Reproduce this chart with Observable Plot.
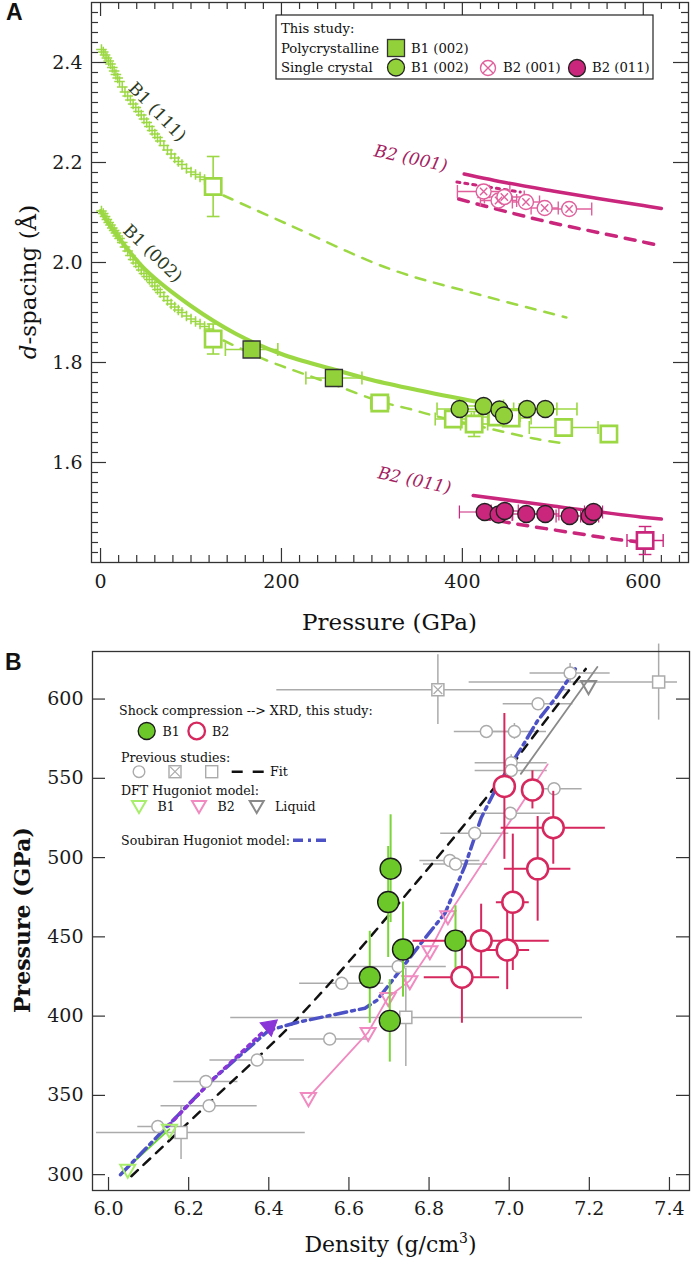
<!DOCTYPE html>
<html><head><meta charset="utf-8">
<script src="https://cdn.jsdelivr.net/npm/d3@7"></script>
<script src="https://cdn.jsdelivr.net/npm/@observablehq/plot@0.6"></script>
<style>
body{margin:0;background:#fff;}
#chart{width:692px;height:1268px;}
#chart svg{display:block;}
</style>
</head><body><div id="chart"></div>
<script>
const FONT = "DejaVu Serif";
// ================= Panel A data =================
const aXTicks = [0, 200, 400, 600];
const aYTicks = [1.6, 1.8, 2.0, 2.2, 2.4];
// B1 (111) compression data (crosses)
const b111Cross = [[1,2.426],[3,2.421],[5,2.415],[7,2.409],[9,2.403],[11,2.397],[13,2.390],[15,2.383],[17,2.376],[19,2.369],[21,2.362],[24,2.351],[27,2.341],[30,2.333],[33,2.325],[36,2.317],[39,2.310],[42,2.302],[45,2.295],[48,2.287],[51,2.280],[54,2.272],[57,2.264],[60,2.257],[63,2.250],[66,2.243],[70,2.234],[74,2.225],[78,2.217],[82,2.209],[86,2.202],[90,2.196],[95,2.188],[100,2.181],[105,2.176],[110,2.171],[115,2.166]];
// B1 (002) compression data (crosses)
const b002Cross = [[1,2.103],[3,2.098],[5,2.092],[7,2.086],[9,2.080],[11,2.075],[13,2.069],[15,2.064],[17,2.059],[19,2.053],[21,2.048],[24,2.040],[27,2.031],[30,2.023],[33,2.014],[36,2.006],[39,1.999],[42,1.992],[45,1.985],[48,1.978],[51,1.972],[54,1.966],[57,1.960],[60,1.953],[63,1.946],[66,1.940],[70,1.932],[74,1.924],[78,1.917],[82,1.911],[86,1.905],[90,1.900],[95,1.893],[100,1.887],[105,1.882],[110,1.877],[115,1.872],[120,1.867]];
// fits
const fitB1_002 = [[0,2.103],[20,2.05],[50,1.985],[100,1.913],[150,1.857],[200,1.817],[258,1.786],[300,1.765],[350,1.745],[420,1.72]];
const dashB1_002 = [[136,1.844],[184,1.804],[225,1.777],[265,1.751],[309,1.722],[342,1.707],[368,1.694],[420,1.672],[479,1.648],[512,1.638]];
const dashB1_111 = [[136,2.134],[210,2.074],[320,1.987],[420,1.935],[515,1.89]];
const fitB2_001 = [[402,2.177],[450,2.159],[500,2.143],[550,2.128],[600,2.114],[620,2.108]];
const dashB2_001 = [[396,2.127],[450,2.101],[500,2.079],[550,2.060],[600,2.041],[620,2.033]];
const dotB2_001 = [[394,2.161],[464,2.141]];
const fitB2_011 = [[412,1.534],[500,1.513],[597,1.491],[620,1.487]];
const dashB2_011 = [[420,1.490],[460,1.477],[520,1.460],[567,1.447],[600,1.440]];
// points: [P, d, P error, d error]
const polyOpenSq = [[124.5,2.152,0,0.06],[124.5,1.847,0,0.03],[308.7,1.719,10,0],[390,1.687,20,0.012],[413,1.677,15,0.025],[438,1.691,20,0.012],[454,1.689,22,0.015],[512,1.670,38,0],[562,1.657,0,0]];
const polyFilledSq = [[167,1.826,29,0],[258,1.769,31,0]];
const scB1_002 = [[397,1.707,25,0],[423.5,1.713,22,0],[441,1.706,22,0],[446,1.694,18,0],[471.5,1.707,33,0],[491.7,1.707,35,0]];
const scB2_001 = [[423.5,2.142,29,0.012],[440,2.124,20,0],[446.4,2.131,22,0.01],[470.3,2.121,15,0],[491,2.109,15,0],[518,2.107,25,0]];
const scB2_011 = [[424.7,1.501,28,0],[440,1.496,15,0],[446.8,1.503,15,0],[470.7,1.497,15,0],[491.7,1.497,15,0],[518.6,1.493,15,0],[540.7,1.493,10,0],[545,1.501,10,0]];
const polyB2_011Open = [[602,1.444,20,0.028]];
const aLabels = [
  {P:62.7, d:2.301, text:"B1 (111)", rot:46, kind:"b1"},
  {P:57.5, d:2.018, text:"B1 (002)", rot:44, kind:"b1"},
  {P:343, d:2.208, text:"B2 (001)", rot:12, kind:"b2"},
  {P:347, d:1.564, text:"B2 (011)", rot:12, kind:"b2"}
];

// ================= Panel B data =================
const bXTicks = [6.0, 6.2, 6.4, 6.6, 6.8, 7.0, 7.2, 7.4];
const bYTicks = [300, 350, 400, 450, 500, 550, 600];
// this study: [density, pressure, density err, pressure err]
const shockB1 = [[6.652,424.5,0,29],[6.702,397,0,26],[6.698,472,0,35],[6.704,493,0,34],[6.735,442,0,30],[6.866,447.6,0,22]];
const shockB2 = [[6.988,544.9,0,46],[7.058,542.7,0.025,12],[7.110,518.8,0.13,23],[7.071,492.9,0.083,33],[7.009,471.8,0.041,43],[6.930,447.6,0.17,23],[6.995,441.7,0.056,25],[6.882,424.5,0.094,29]];
// previous studies
const prevCircles = [[7.152,616.4,0.10,6],[7.072,597,0.087,0],[6.943,579.6,0.08,0],[7.013,579.6,0.08,5],[7.005,559.8,0.09,5],[7.005,555,0.09,0],[7.112,543.4,0.07,0],[7.003,528,0.10,0],[6.914,515.4,0.085,0],[6.852,498.2,0.075,0],[6.866,496,0.08,0],[6.723,431.3,0.12,0],[6.582,420.7,0.105,0],[6.552,385.6,0.10,0],[6.371,372.3,0.118,0],[6.243,358.8,0.08,0],[6.251,343.5,0.12,0],[6.123,330.4,0.05,0]];
// squares: [density, pressure, density low, density high, pressure err]
const prevSquares = [[6.181,326.6,5.97,6.491,17],[6.742,399.2,6.305,7.183,31],[7.373,610.7,6.90,7.42,24]];
const prevCrossSq = [[6.822,605.9,6.42,7.15,22]];
const fitPrev = [[6.057,299],[6.25,345],[6.478,400.3],[6.769,484.5],[6.967,545.5],[7.075,581.3],[7.191,619]];
const dftB1 = [[6.048,303.5],[6.152,328.7]];
const dftB1Line = [[6.03,300.4],[6.152,328.7]];
const dftB2 = [[6.499,348.7],[6.648,389.8],[6.698,411.9],[6.752,422.4],[6.802,441.4],[6.847,463.4]];
const dftB2Line = [[6.499,348.7],[6.648,389.8],[6.698,411.9],[6.752,422.4],[6.802,441.4],[6.847,463.4],[7.096,558.8]];
const dftLiquid = [[7.198,608.6]];
const dftLiquidLine = [[7.029,552.8],[7.22,620.2]];
const soubiran = [[6.03,300],[6.16,334],[6.26,360],[6.40,391],[6.47,396],[6.64,405],[6.67,410],[6.71,423],[6.78,446],[6.84,465],[6.89,495],[6.93,525],[6.97,545],[7.03,569],[7.07,586],[7.12,602],[7.165,619]];
const purplePath = [[6.15,331],[6.26,360],[6.39,391]];
const purpleHead = [[6.402,393.5]];

// ================= colors =================
const cGreen = "#9cd843", cGreenFill = "#92d13a", cMag = "#c9267c", cMagX = "#e0609c";
const cGB = "#6cc828", cCrim = "#d6285e", cGray = "#ababab";
const cDftG = "#a8ee6c", cDftP = "#f08ac0", cDftL = "#8a8a8a", cSoub = "#4c52c6", cPurp = "#8a35d8";

const P = a => a.map(([x,y,ex=0,ey=0]) => ({x,y,ex,ey}));
const L = a => a.map(([x,y]) => ({x,y}));

// error bars with caps (panel A)
function errA(data, color, w, capD, capP) {
  const hx = data.filter(d => d.ex > 0), vy = data.filter(d => d.ey > 0);
  const o = {stroke: color, strokeWidth: w};
  return [
    Plot.link(hx, {x1: d=>d.x-d.ex, x2: d=>d.x+d.ex, y1:"y", y2:"y", ...o}),
    Plot.link(hx, {x1: d=>d.x-d.ex, x2: d=>d.x-d.ex, y1: d=>d.y-capD, y2: d=>d.y+capD, ...o}),
    Plot.link(hx, {x1: d=>d.x+d.ex, x2: d=>d.x+d.ex, y1: d=>d.y-capD, y2: d=>d.y+capD, ...o}),
    Plot.link(vy, {x1:"x", x2:"x", y1: d=>d.y-d.ey, y2: d=>d.y+d.ey, ...o}),
    Plot.link(vy, {x1: d=>d.x-capP, x2: d=>d.x+capP, y1: d=>d.y-d.ey, y2: d=>d.y-d.ey, ...o}),
    Plot.link(vy, {x1: d=>d.x-capP, x2: d=>d.x+capP, y1: d=>d.y+d.ey, y2: d=>d.y+d.ey, ...o})
  ];
}

// ================= Panel A =================
const hA = 640, mTA = 2, mBA = 78, mLA = 91, mRA = 4;
const fwA = 692 - mLA - mRA, fhA = hA - mTA - mBA;
const xMinA = d3.range(20, 650, 20).filter(v => v % 200 !== 0);
const yMinA = d3.range(71, 126).filter(i => i % 10 !== 0).map(i => i / 50);
const tick = {stroke: "#333", strokeWidth: 1.2};
const lineA = {x:"x", y:"y", curve:"catmull-rom"};

const A = Plot.plot({
  width: 692, height: hA, marginTop: mTA, marginBottom: mBA, marginLeft: mLA, marginRight: mRA,
  x: {domain: [-10, 650]},
  y: {domain: [1.4, 2.52]},
  style: {fontFamily: FONT, fontSize: "19px", color: "#1a1a1a", background: "white", overflow: "visible"},
  marks: [
    Plot.ruleX(aXTicks, {insetTop: fhA - 14, ...tick}),
    Plot.ruleX(aXTicks, {insetBottom: fhA - 14, ...tick}),
    Plot.ruleX(xMinA, {insetTop: fhA - 7, ...tick}),
    Plot.ruleX(xMinA, {insetBottom: fhA - 7, ...tick}),
    Plot.ruleY(aYTicks, {insetRight: fwA - 15, ...tick}),
    Plot.ruleY(aYTicks, {insetLeft: fwA - 15, ...tick}),
    Plot.ruleY(yMinA, {insetRight: fwA - 7, ...tick}),
    Plot.ruleY(yMinA, {insetLeft: fwA - 7, ...tick}),
    Plot.axisX(aXTicks, {tickSize: 0, tickPadding: 12, fontSize: 19, label: null}),
    Plot.axisY(aYTicks, {tickSize: 0, tickPadding: 9, fontSize: 19, label: null, tickFormat: d3.format(".1f")}),
    // fits
    Plot.line(L(dashB1_111), {...lineA, stroke: cGreen, strokeWidth: 2.5, strokeDasharray: "10,9"}),
    Plot.line(L(dashB1_002), {...lineA, stroke: cGreen, strokeWidth: 2.5, strokeDasharray: "10,9"}),
    Plot.line(L(fitB1_002), {...lineA, stroke: cGreen, strokeWidth: 4}),
    Plot.line(L(fitB2_001), {...lineA, stroke: cMag, strokeWidth: 3.5}),
    Plot.line(L(dashB2_001), {...lineA, stroke: cMag, strokeWidth: 3.5, strokeDasharray: "10,9"}),
    Plot.line(L(dotB2_001), {...lineA, stroke: cMag, strokeWidth: 3, strokeDasharray: "3,5"}),
    Plot.line(L(fitB2_011), {...lineA, stroke: cMag, strokeWidth: 3.5}),
    Plot.line(L(dashB2_011), {...lineA, stroke: cMag, strokeWidth: 3.5, strokeDasharray: "10,9"}),
    // compression crosses
    Plot.dot(L(b111Cross), {x:"x", y:"y", symbol:"plus", r:3.5, stroke: cGreen, strokeWidth: 1.5}),
    Plot.dot(L(b002Cross), {x:"x", y:"y", symbol:"plus", r:3.5, stroke: cGreen, strokeWidth: 1.5}),
    // error bars
    ...errA(P(polyOpenSq), cGreen, 1.6, 0.013, 7),
    ...errA(P(polyFilledSq), cGreen, 1.6, 0.013, 7),
    ...errA(P(scB1_002), cGreen, 1.6, 0.013, 7),
    ...errA(P(scB2_001), cMagX, 1.4, 0.013, 7),
    ...errA(P(scB2_011), cMag, 1.2, 0.013, 7),
    ...errA(P(polyB2_011Open), cMag, 1.4, 0.013, 7),
    // markers
    Plot.dot(P(polyOpenSq), {x:"x", y:"y", symbol:"square", r:9.2, fill:"white", stroke: cGreen, strokeWidth: 2.6}),
    Plot.dot(P(polyFilledSq), {x:"x", y:"y", symbol:"square", r:9.6, fill: cGreenFill, stroke:"#333", strokeWidth: 1.3}),
    Plot.dot(P(scB1_002), {x:"x", y:"y", r:8.5, fill: cGreenFill, stroke:"#222", strokeWidth: 1.3}),
    Plot.dot(P(scB2_001), {x:"x", y:"y", r:7.5, fill:"white", stroke: cMagX, strokeWidth: 1.4}),
    Plot.dot(P(scB2_001), {x:"x", y:"y", symbol:"times", r:3.4, stroke: cMagX, strokeWidth: 1.4}),
    Plot.dot(P(scB2_011), {x:"x", y:"y", r:8.5, fill: cMag, stroke:"#222", strokeWidth: 1.3}),
    Plot.dot(P(polyB2_011Open), {x:"x", y:"y", symbol:"square", r:9.2, fill:"white", stroke: cMag, strokeWidth: 2.6}),
    // curve labels
    Plot.text(aLabels.filter(d=>d.kind==="b1"), {x:"P", y:"d", text:"text", rotate: d=>d.rot, fontSize: 17, fill:"#2b3a22"}),
    Plot.text(aLabels.filter(d=>d.kind==="b2"), {x:"P", y:"d", text:"text", rotate: d=>d.rot, fontSize: 17, fill:"#a3215f", fontStyle:"italic"}),
    Plot.frame({stroke:"#333", strokeWidth: 1.3})
  ]
});

// ================= Panel B =================
const hB = 628, mTB = 11, mBB = 78, mLB = 92, mRB = 3;
const fwB = 692 - mLB - mRB, fhB = hB - mTB - mBB;

const B = Plot.plot({
  width: 692, height: hB, marginTop: mTB, marginBottom: mBB, marginLeft: mLB, marginRight: mRB,
  x: {domain: [5.96, 7.45]},
  y: {domain: [290, 630]},
  style: {fontFamily: FONT, fontSize: "19px", color: "#1a1a1a", background: "white", overflow: "visible"},
  marks: [
    Plot.ruleX(bXTicks, {insetTop: fhB - 13, ...tick}),
    Plot.ruleY(bYTicks, {insetRight: fwB - 13, ...tick}),
    Plot.ruleY(bYTicks, {insetLeft: fwB - 13, ...tick}),
    Plot.axisX(bXTicks, {tickSize: 0, tickPadding: 11, fontSize: 19, label: null, tickFormat: d3.format(".1f")}),
    Plot.axisY(bYTicks, {tickSize: 0, tickPadding: 9, fontSize: 19, label: null}),
    // previous-study error bars
    Plot.ruleY(P(prevCircles), {y:"y", x1: d=>d.x-d.ex, x2: d=>d.x+d.ex, stroke: cGray, strokeWidth: 1.5}),
    Plot.ruleX(P(prevCircles).filter(d=>d.ey>0), {x:"x", y1: d=>d.y-d.ey, y2: d=>d.y+d.ey, stroke: cGray, strokeWidth: 1.5}),
    Plot.ruleY(prevSquares.concat(prevCrossSq), {y: d=>d[1], x1: d=>d[2], x2: d=>d[3], stroke: cGray, strokeWidth: 1.5}),
    Plot.ruleX(prevSquares.concat(prevCrossSq), {x: d=>d[0], y1: d=>d[1]-d[4], y2: d=>d[1]+d[4], stroke: cGray, strokeWidth: 1.5}),
    // models and fit
    Plot.line(L(dftB1Line), {x:"x", y:"y", stroke: "#6ad830", strokeWidth: 1.8}),
    Plot.line(L(dftB2Line), {x:"x", y:"y", stroke: cDftP, strokeWidth: 1.8}),
    Plot.line(L(dftLiquidLine), {x:"x", y:"y", stroke: cDftL, strokeWidth: 1.8}),
    Plot.line(L(fitPrev), {x:"x", y:"y", curve:"catmull-rom", stroke:"#111", strokeWidth: 2.5, strokeDasharray:"9,8"}),
    Plot.line(L(soubiran), {x:"x", y:"y", stroke: cSoub, strokeWidth: 3.5, strokeDasharray:"12,5,3,5"}),
    Plot.line(L(purplePath), {x:"x", y:"y", stroke: cPurp, strokeWidth: 3.5, strokeDasharray:"3,5"}),
    Plot.dot(L(purpleHead), {x:"x", y:"y", symbol:"triangle", rotate: 50, r:6.5, fill: cPurp, stroke: cPurp, strokeWidth: 1}),
    // previous markers
    Plot.dot(P(prevCircles), {x:"x", y:"y", r:6, fill:"white", stroke: cGray, strokeWidth: 1.5}),
    Plot.dot(prevSquares, {x: d=>d[0], y: d=>d[1], symbol:"square", r:6.8, fill:"white", stroke: cGray, strokeWidth: 1.5}),
    Plot.dot(prevCrossSq, {x: d=>d[0], y: d=>d[1], symbol:"square", r:6.8, fill:"white", stroke: cGray, strokeWidth: 1.5}),
    Plot.dot(prevCrossSq, {x: d=>d[0], y: d=>d[1], symbol:"times", r:4, stroke: cGray, strokeWidth: 1.3}),
    // DFT triangles
    Plot.dot(L(dftB1), {x:"x", y:"y", symbol:"triangle", rotate:180, r:5.6, fill:"none", stroke: cDftG, strokeWidth: 2}),
    Plot.dot(L(dftB2), {x:"x", y:"y", symbol:"triangle", rotate:180, r:5.6, fill:"none", stroke: cDftP, strokeWidth: 2}),
    Plot.dot(L(dftLiquid), {x:"x", y:"y", symbol:"triangle", rotate:180, r:5.6, fill:"none", stroke: cDftL, strokeWidth: 2}),
    // this study error bars
    Plot.ruleX(P(shockB1), {x:"x", y1: d=>d.y-d.ey, y2: d=>d.y+d.ey, stroke: "#7ad43a", strokeWidth: 2}),
    Plot.ruleX(P(shockB2), {x:"x", y1: d=>d.y-d.ey, y2: d=>d.y+d.ey, stroke: cCrim, strokeWidth: 2}),
    Plot.ruleY(P(shockB2).filter(d=>d.ex>0), {y:"y", x1: d=>d.x-d.ex, x2: d=>d.x+d.ex, stroke: cCrim, strokeWidth: 2}),
    Plot.dot(P(shockB1), {x:"x", y:"y", r:10.5, fill: cGB, stroke:"#1a1a1a", strokeWidth: 1.4}),
    Plot.dot(P(shockB2), {x:"x", y:"y", r:10.5, fill:"white", stroke: cCrim, strokeWidth: 2.5}),
    Plot.frame({stroke:"#333", strokeWidth: 1.3})
  ]
});

const root = document.getElementById("chart");
root.appendChild(A);
root.appendChild(B);

// ---------- decorations: titles, panel letters, legends ----------
function txt(g, x, y, s, o = {}) {
  return g.append("text").attr("x", x).attr("y", y)
    .attr("font-family", o.family || FONT).attr("font-size", o.size || 13)
    .attr("font-weight", o.weight || null).attr("fill", o.fill || "#111")
    .attr("text-anchor", o.anchor || "start").text(s);
}
const gA = d3.select(A).append("g");
const gB = d3.select(B).append("g");
const off = hA; // page y offset of panel B

// Panel A titles
txt(gA, 6, 20, "A", {family: "Liberation Sans", size: 23, weight: "bold"});
txt(gA, 389.5, 630, "Pressure (GPa)", {size: 23, anchor: "middle"});
{
  const t = gA.append("text").attr("transform", "translate(36,282) rotate(-90)")
    .attr("text-anchor", "middle").attr("font-family", FONT).attr("font-size", 23).attr("fill", "#111");
  t.append("tspan").attr("font-style", "italic").text("d");
  t.append("tspan").text("-spacing (Å)");
}
// Panel A legend
gA.append("rect").attr("x", 276).attr("y", 15).attr("width", 377).attr("height", 64)
  .attr("fill", "white").attr("stroke", "#222").attr("stroke-width", 1.2);
txt(gA, 281, 33, "This study:", {size: 13.2});
txt(gA, 281, 53, "Polycrystalline", {size: 13.2});
txt(gA, 281, 72, "Single crystal", {size: 13.2});
gA.append("rect").attr("x", 387.5).attr("y", 39.5).attr("width", 17).attr("height", 17)
  .attr("fill", cGreenFill).attr("stroke", "#333").attr("stroke-width", 1.3);
txt(gA, 411, 53, "B1 (002)", {size: 13.2});
gA.append("circle").attr("cx", 396).attr("cy", 67.5).attr("r", 8.5).attr("fill", cGreenFill).attr("stroke", "#222").attr("stroke-width", 1.3);
txt(gA, 411, 72, "B1 (002)", {size: 13.2});
gA.append("circle").attr("cx", 488).attr("cy", 68).attr("r", 7.5).attr("fill", "white").attr("stroke", cMagX).attr("stroke-width", 1.4);
gA.append("path").attr("d", "M483,63L493,73M493,63L483,73").attr("stroke", cMagX).attr("stroke-width", 1.4);
txt(gA, 503, 72, "B2 (001)", {size: 13.2});
gA.append("circle").attr("cx", 577).attr("cy", 68).attr("r", 8.5).attr("fill", cMag).attr("stroke", "#222").attr("stroke-width", 1.3);
txt(gA, 592, 72, "B2 (011)", {size: 13.2});

// Panel B titles
txt(gB, 5, 670 - off, "B", {family: "Liberation Sans", size: 23, weight: "bold"});
{
  const t = gB.append("text").attr("x", 390.5).attr("y", 1252 - off).attr("text-anchor", "middle")
    .attr("font-family", FONT).attr("font-size", 22).attr("fill", "#111");
  t.append("tspan").text("Density (g/cm");
  t.append("tspan").attr("font-size", 14).attr("dy", -9).text("3");
  t.append("tspan").attr("dy", 9).text(")");
}
gB.append("text").attr("transform", `translate(30,${920 - off}) rotate(-90)`).attr("text-anchor", "middle")
  .attr("font-family", FONT).attr("font-size", 22).attr("font-weight", "bold").attr("fill", "#111").text("Pressure (GPa)");

// Panel B legend (page coords -> svg coords)
const yb = v => v - off;
txt(gB, 119, yb(715), "Shock compression --> XRD, this study:", {size: 12.6});
gB.append("circle").attr("cx", 146.7).attr("cy", yb(731)).attr("r", 8.5).attr("fill", cGB).attr("stroke", "#1a1a1a").attr("stroke-width", 1.3);
txt(gB, 162.5, yb(736), "B1", {size: 12.6});
gB.append("circle").attr("cx", 196.7).attr("cy", yb(731)).attr("r", 8.3).attr("fill", "white").attr("stroke", cCrim).attr("stroke-width", 2.3);
txt(gB, 212, yb(736), "B2", {size: 12.6});
txt(gB, 121, yb(762), "Previous studies:", {size: 12.6});
gB.append("circle").attr("cx", 139).attr("cy", yb(771.7)).attr("r", 5.8).attr("fill", "white").attr("stroke", cGray).attr("stroke-width", 1.4);
gB.append("rect").attr("x", 169).attr("y", yb(765.7)).attr("width", 12).attr("height", 12).attr("fill", "white").attr("stroke", cGray).attr("stroke-width", 1.4);
gB.append("path").attr("d", `M170,${yb(766.7)}L180,${yb(776.7)}M180,${yb(766.7)}L170,${yb(776.7)}`).attr("stroke", cGray).attr("stroke-width", 1.2);
gB.append("rect").attr("x", 205.7).attr("y", yb(765.7)).attr("width", 12).attr("height", 12).attr("fill", "white").attr("stroke", cGray).attr("stroke-width", 1.4);
gB.append("line").attr("x1", 231.7).attr("x2", 264).attr("y1", yb(771.7)).attr("y2", yb(771.7)).attr("stroke", "#111").attr("stroke-width", 2.5).attr("stroke-dasharray", "11,10");
txt(gB, 270, yb(776), "Fit", {size: 12.6});
txt(gB, 121, yb(795), "DFT Hugoniot model:", {size: 12.6});
const tri = (x, y) => `M${x-7},${y-6}L${x+7},${y-6}L${x},${y+6}Z`;
gB.append("path").attr("d", tri(139, yb(807))).attr("fill", "none").attr("stroke", cDftG).attr("stroke-width", 2);
txt(gB, 157.5, yb(811), "B1", {size: 12.6});
gB.append("path").attr("d", tri(199, yb(807))).attr("fill", "none").attr("stroke", cDftP).attr("stroke-width", 2);
txt(gB, 217.5, yb(811), "B2", {size: 12.6});
gB.append("path").attr("d", tri(256.7, yb(807))).attr("fill", "none").attr("stroke", cDftL).attr("stroke-width", 2);
txt(gB, 275, yb(811), "Liquid", {size: 12.6});
txt(gB, 121, yb(845), "Soubiran Hugoniot model:", {size: 12.6});
gB.append("line").attr("x1", 293).attr("x2", 326).attr("y1", yb(840.3)).attr("y2", yb(840.3)).attr("stroke", cSoub).attr("stroke-width", 3.5).attr("stroke-dasharray", "10,5,3,5");
</script>
</body></html>
